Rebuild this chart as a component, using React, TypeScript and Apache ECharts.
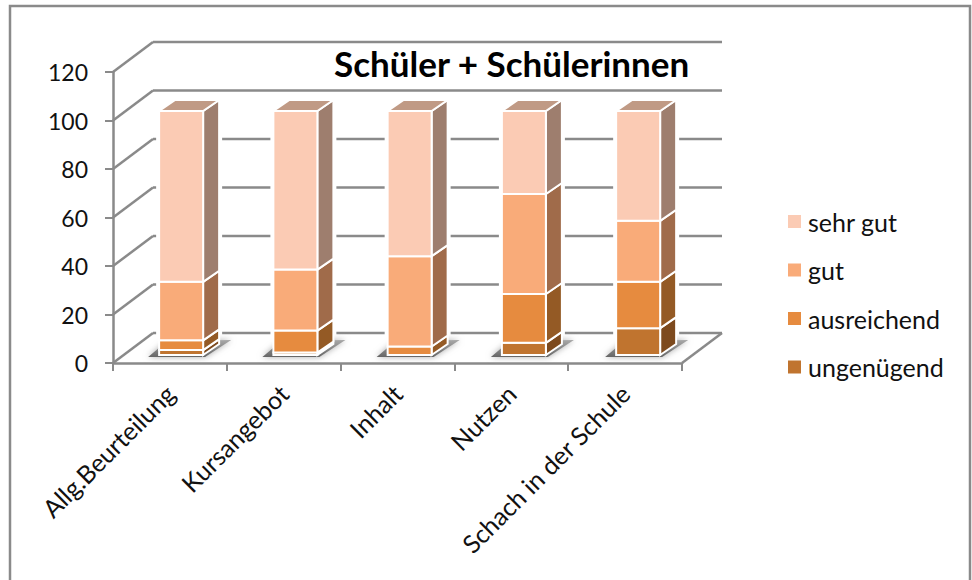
import React, { useEffect, useRef } from "react";
import * as echarts from "echarts";

const categories = ["Allg.Beurteilung", "Kursangebot", "Inhalt", "Nutzen", "Schach in der Schule"];
const ungenuegend = [2, 1, 0, 5, 11];
const ausreichend = [4, 9, 3.5, 20, 19];
const gut = [24, 25, 37, 41, 25];
const sehrGut = [70, 65, 59.5, 34, 45];
const yTicks = [0, 20, 40, 60, 80, 100, 120];
const seriesNames = ["ungenügend", "ausreichend", "gut", "sehr gut"];
const legendOrder = ["sehr gut", "gut", "ausreichend", "ungenügend"];
const title = "Schüler + Schülerinnen";

const frontColors = ["#C0742F", "#E68B3F", "#F9AB79", "#FBCBB4"];
const sideColors = ["#7D4A1E", "#945A25", "#A06B4A", "#9E7E6E"];
const topColor = "#C09A85";
const lineColor = "#8A8A8A";
const font = "Lato";

const GRID = { left: 113, top: 72, width: 569, height: 291 };
const WALL = { dx: 40, dy: -30 };
const BAR = { halfWidth: 22, dx: 16, dy: -11 };

function front(api: any, cat: number, v: number) {
  const p = api.coord([cat, v]);
  return [
    GRID.left + (p[0] - GRID.left) * 1.004 + 11,
    355 - (GRID.top + GRID.height - p[1]) * 1.006,
  ];
}

function App() {
  const ref = useRef<HTMLDivElement>(null);
  useEffect(() => {
    const chart = echarts.init(ref.current!, null, { renderer: "svg" });
    const stacks = [ungenuegend, ausreichend, gut, sehrGut];

    const wallSeries = {
      type: "custom",
      name: "walls",
      z: 1,
      silent: true,
      clip: false,
      data: yTicks.map((v) => [0, v]),
      encode: { x: 0, y: 1 },
      renderItem: (params: any, api: any) => {
        const cs = params.coordSys;
        const y = api.coord([0, api.value(1)])[1];
        const style = { stroke: lineColor, lineWidth: 2.5, fill: "none" };
        const children: any[] = [
          { type: "line", shape: { x1: cs.x, y1: y, x2: cs.x + WALL.dx, y2: y + WALL.dy }, style },
          { type: "line", shape: { x1: cs.x + WALL.dx, y1: y + WALL.dy, x2: cs.x + cs.width + WALL.dx, y2: y + WALL.dy }, style },
        ];
        if (api.value(1) === 0) {
          children.push({ type: "line", shape: { x1: cs.x + cs.width, y1: y, x2: cs.x + cs.width + WALL.dx, y2: y + WALL.dy }, style });
        }
        return { type: "group", children };
      },
    };

    const haloSeries = {
      type: "custom",
      name: "halo",
      z: 2,
      silent: true,
      clip: false,
      data: categories.map((_, i) => [i, stacks.reduce((s, a) => s + a[i], 0)]),
      encode: { x: 0, y: 1 },
      renderItem: (_p: any, api: any) => {
        const c = api.value(0);
        const b = front(api, c, 0);
        const t = front(api, c, api.value(1));
        const l = b[0] - BAR.halfWidth;
        const r = b[0] + BAR.halfWidth;
        return {
          type: "group",
          children: [
            {
              type: "polygon",
              shape: {
                points: [
                  [l, t[1]],
                  [l + BAR.dx, t[1] + BAR.dy],
                  [r + BAR.dx, t[1] + BAR.dy],
                  [r + BAR.dx, b[1] + BAR.dy],
                  [r, b[1]],
                  [l, b[1]],
                ],
              },
              style: { fill: "#fff", stroke: "#fff", lineWidth: 6 },
            },
            {
              type: "polygon",
              shape: {
                points: [
                  [l - 11, b[1] + 2],
                  [r + 2, b[1] + 2],
                  [r + 28, b[1] - 15],
                  [l + 8, b[1] - 14],
                ],
              },
              style: {
                fill: {
                  type: "linear",
                  x: 0,
                  y: 1,
                  x2: 0,
                  y2: 0,
                  colorStops: [
                    { offset: 0, color: "#666" },
                    { offset: 1, color: "#a8a8a8" },
                  ],
                },
                shadowBlur: 6,
                shadowColor: "#aaa",
              },
            },
          ],
        };
      },
    };

    const barSeries = seriesNames.map((name, si) => ({
      type: "custom",
      name,
      z: 3,
      silent: true,
      clip: false,
      itemStyle: { color: frontColors[si] },
      data: categories.map((_, i) => {
        let base = 0;
        for (let k = 0; k < si; k++) base += stacks[k][i];
        return [i, base, base + stacks[si][i]];
      }),
      encode: { x: 0, y: 2 },
      renderItem: (_p: any, api: any) => {
        const c = api.value(0);
        const lo = api.value(1);
        const hi = api.value(2);
        if (hi <= lo) return null;
        const b = front(api, c, lo);
        const t = front(api, c, hi);
        const l = b[0] - BAR.halfWidth;
        const r = b[0] + BAR.halfWidth;
        const edge = { stroke: "#fff", lineWidth: 2, lineJoin: "miter" };
        const children: any[] = [
          {
            type: "polygon",
            shape: { points: [[r, b[1]], [r + BAR.dx, b[1] + BAR.dy], [r + BAR.dx, t[1] + BAR.dy], [r, t[1]]] },
            style: { fill: sideColors[si], ...edge },
          },
          {
            type: "polygon",
            shape: { points: [[l, b[1]], [r, b[1]], [r, t[1]], [l, t[1]]] },
            style: { fill: frontColors[si], ...edge },
          },
        ];
        if (si === seriesNames.length - 1) {
          children.push({
            type: "polygon",
            shape: { points: [[l, t[1]], [r, t[1]], [r + BAR.dx, t[1] + BAR.dy], [l + BAR.dx, t[1] + BAR.dy]] },
            style: { fill: topColor, ...edge },
          });
        }
        return { type: "group", children };
      },
    }));

    chart.setOption({
      animation: false,
      backgroundColor: "#fff",
      textStyle: { fontFamily: font },
      title: {
        text: title,
        left: 334,
        top: 45,
        padding: 0,
        textStyle: { fontFamily: font, fontSize: 35, fontWeight: "bold", color: "#000" },
      },
      legend: {
        orient: "vertical",
        left: 788,
        top: 209,
        itemWidth: 13,
        itemHeight: 13,
        itemGap: 23.5,
        padding: 0,
        selectedMode: false,
        icon: "rect",
        data: legendOrder,
        textStyle: { fontFamily: font, fontSize: 25, color: "#111", lineHeight: 24, padding: [0, 0, 0, 2] },
      },
      grid: { ...GRID },
      xAxis: {
        type: "category",
        data: categories,
        boundaryGap: true,
        axisLine: { show: true, lineStyle: { color: lineColor, width: 2.5 } },
        axisTick: { show: true, length: 8, alignWithLabel: false, lineStyle: { color: lineColor, width: 2 } },
        axisLabel: { rotate: 45, interval: 0, margin: 26, fontFamily: font, fontSize: 25, color: "#111" },
      },
      yAxis: {
        type: "value",
        min: 0,
        max: 120,
        interval: 20,
        axisLine: { show: true, lineStyle: { color: lineColor, width: 2.5 } },
        axisTick: { show: true, length: 8, lineStyle: { color: lineColor, width: 2 } },
        splitLine: { show: false },
        axisLabel: { margin: 25, fontFamily: font, fontSize: 23, color: "#111" },
      },
      graphic: [
        {
          type: "polyline",
          silent: true,
          shape: { points: [[10, 580], [10, 6], [970, 6], [970, 580]] },
          style: { stroke: lineColor, lineWidth: 2.5, fill: "none" },
        },
      ],
      series: [wallSeries, haloSeries, ...barSeries],
    });
    return () => chart.dispose();
  }, []);
  return <div ref={ref} style={{ position: "fixed", left: 0, top: 0, width: 972, height: 580 }} />;
}

export default App;
